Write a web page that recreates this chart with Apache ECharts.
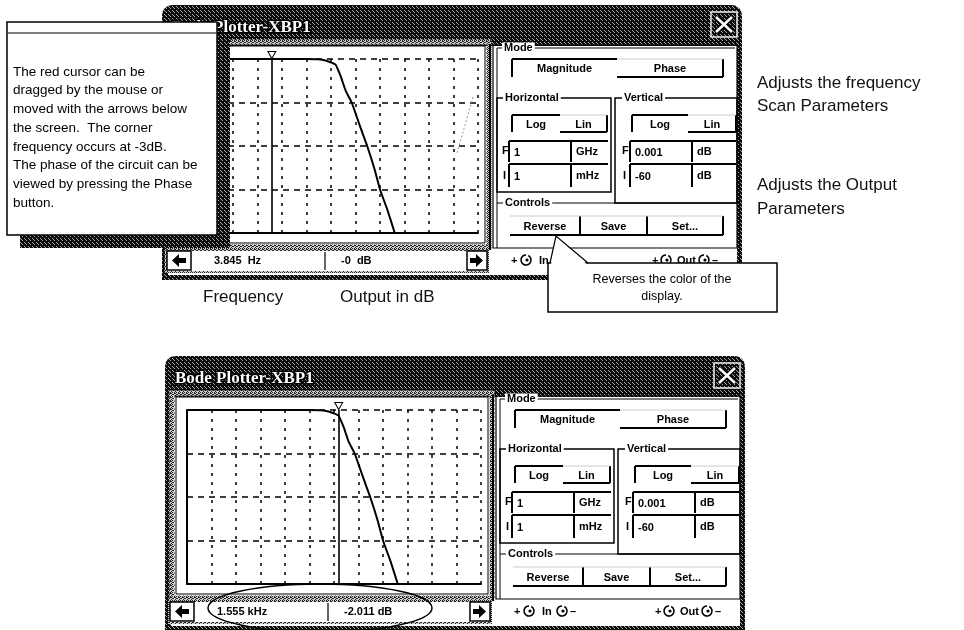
<!DOCTYPE html>
<html><head><meta charset="utf-8">
<script src="https://cdn.jsdelivr.net/npm/echarts@6/dist/echarts.min.js"></script>
<style>html,body{margin:0;padding:0;background:#fff}#c{width:964px;height:630px}</style>
</head><body><div id="c"></div>
<script>
// ---- data ----
const freqHz = [0.001, 1, 100, 300, 600, 1000, 1250, 1555, 2000, 2500, 4000, 7000, 15000, 30000, 60000, 100000, 200000, 400000];
const magDb  = [0, 0, 0, -0.1, -0.5, -1.2, -1.5, -2.0, -4.0, -6.0, -11.0, -15, -23, -30, -38, -45, -52, -60];
const xRangeHz = [0.001, 1e9];
const yRangeDb = [-60, 0];
const cursorTopHz = 3.845;
const cursorBottomHz = 1555;
const readoutTop = ['3.845  Hz', '-0  dB'];
const readoutBottom = ['1.555 kHz', '-2.011 dB'];
const hSettings = ['1', 'GHz', '1', 'mHz'];
const vSettings = ['0.001', 'dB', '-60', 'dB'];
const calloutLines = ['The red cursor can be', 'dragged by the mouse or', 'moved with the arrows below',
  'the screen.  The corner', 'frequency occurs at -3dB.', 'The phase of the circuit can be',
  'viewed by pressing the Phase', 'button.'];

// ---- textures ----
function pattern(dark, light, cells) {
  const c = document.createElement('canvas'); c.width = 4; c.height = 4;
  const g = c.getContext('2d'); g.fillStyle = light; g.fillRect(0, 0, 4, 4); g.fillStyle = dark;
  cells.forEach(p => g.fillRect(p[0], p[1], 1, 1));
  return { image: c, repeat: 'repeat' };
}
const darkCells = [[0,0],[1,0],[3,0],[0,1],[1,1],[2,1],[3,1],[1,2],[2,2],[3,2],[0,3],[2,3],[3,3]];
const DARK = pattern('#0c0c0c', '#a8a8a8', darkCells);
const MID = pattern('#222', '#d0d0d0', [[0,0],[2,1],[1,2],[3,3],[2,0],[0,2],[3,1]]);

const UI = 'bold 11px "Liberation Sans", Arial, sans-serif';
const G = [];
function rect(x, y, w, h, style, z, r) { G.push({ type: 'rect', z: z || 1, shape: { x, y, width: w, height: h, r: r || 0 }, style }); }
function line(x1, y1, x2, y2, stroke, lw, z, dash) { G.push({ type: 'line', z: z || 2, shape: { x1, y1, x2, y2 }, style: { stroke, lineWidth: lw || 1, lineDash: dash || null } }); }
function text(x, y, t, font, opt) { G.push(Object.assign({ type: 'text', z: 3, x, y, style: Object.assign({ text: t, font, fill: '#000', textVerticalAlign: 'middle', textAlign: 'left' }, opt && opt.style) }, opt && opt.el)); }
function knob(x, y, z) {
  G.push({ type: 'arc', z: z || 3, shape: { cx: x, cy: y, r: 5, startAngle: -Math.PI * 0.35, endAngle: Math.PI * 1.5 }, style: { stroke: '#000', lineWidth: 1.6, fill: null } });
  G.push({ type: 'circle', z: z || 3, shape: { cx: x + 1, cy: y, r: 1.6 }, style: { fill: '#000' } });
}
function button(x, y, w, h, label, pressed) {
  if (pressed) { line(x, y, x + w, y, '#000', 2); line(x, y, x, y + h, '#000', 2); }
  else { line(x, y + h, x + w, y + h, '#000', 2); line(x + w, y, x + w, y + h, '#000', 2); line(x, y, x + w, y, '#ccc', 1); }
  text(x + w / 2, y + h / 2 + 1, label, UI, { style: { textAlign: 'center' } });
}
function field(x, y, w, uw, h, val, unit) {
  line(x, y, x + w + uw, y, '#000', 2); line(x, y, x, y + h, '#000', 2);
  line(x + w, y, x + w, y + h, '#000', 2);
  text(x + 5, y + h / 2 + 1, val, UI); text(x + w + 5, y + h / 2, unit, UI);
}
function groupLabel(x, y, t) { text(x, y, t, UI, { style: { backgroundColor: '#fff', padding: [0, 2] } }); }

function windowChrome(dx, dy, title, read) {
  const X = v => v + dx, Y = v => v + dy;
  rect(X(162), Y(5), 580, 275, { fill: '#fff' }, -5, [10, 10, 0, 0]);
  rect(X(162), Y(5), 580, 41, { fill: DARK }, -4, [10, 10, 0, 0]);
  rect(X(162), Y(45), 6, 235, { fill: DARK }, -4);
  rect(X(737), Y(45), 5, 235, { fill: DARK }, -4);
  rect(X(162), Y(275), 580, 5, { fill: DARK }, -4);
  // close box
  rect(X(711), Y(12), 26, 25, { fill: DARK, stroke: '#eee', lineWidth: 1.5 }, 2);
  line(X(716), Y(17), X(732), Y(32), '#000', 5, 3); line(X(732), Y(17), X(716), Y(32), '#000', 5, 3);
  line(X(716), Y(17), X(732), Y(32), '#fff', 2.5, 4); line(X(732), Y(17), X(716), Y(32), '#fff', 2.5, 4);
  text(X(172), Y(28), title, 'bold 17px "Liberation Serif", serif', { style: { fill: '#fff', stroke: '#000', lineWidth: 3 } });
  // plot frame
  rect(X(169), Y(42), 320, 205, { fill: null, stroke: MID, lineWidth: 5 }, -3);
  rect(X(173), Y(46), 312, 197, { fill: null, stroke: '#000', lineWidth: 1 }, -3);
  // readout bar
  rect(X(166), Y(250), 322, 22, { fill: '#fff', stroke: MID, lineWidth: 2 }, -3);
  rect(X(167), Y(251), 24, 19, { fill: '#fff', stroke: '#000', lineWidth: 1.5 }, 1);
  G.push({ type: 'polygon', z: 2, shape: { points: [[X(172), Y(260.5)], [X(179), Y(254)], [X(179), Y(258)], [X(186), Y(258)], [X(186), Y(263)], [X(179), Y(263)], [X(179), Y(267)]] }, style: { fill: '#000' } });
  rect(X(467), Y(251), 20, 19, { fill: '#fff', stroke: '#000', lineWidth: 1.5 }, 1);
  G.push({ type: 'polygon', z: 2, shape: { points: [[X(483), Y(260.5)], [X(476), Y(254)], [X(476), Y(258)], [X(470), Y(258)], [X(470), Y(263)], [X(476), Y(263)], [X(476), Y(267)]] }, style: { fill: '#000' } });
  line(X(325), Y(252), X(325), Y(270), '#000', 1.2);
  text(X(214), Y(261), read[0], UI); text(X(341), Y(261), read[1], UI);
  // panel
  line(X(490), Y(44), X(490), Y(250), '#000', 2);
  rect(X(493), Y(45), 244, 203, { fill: null, stroke: '#000', lineWidth: 1.2 }, 1);
  line(X(497), Y(48), X(735), Y(48), '#000', 1); line(X(497), Y(48), X(497), Y(248), '#000', 1);
  groupLabel(X(502), Y(48), 'Mode');
  button(X(512), Y(59), 105, 18, 'Magnitude', true);
  button(X(617), Y(59), 106, 18, 'Phase', false);
  rect(X(497), Y(98), 114, 94, { fill: null, stroke: '#000', lineWidth: 1.5 }, 1);
  groupLabel(X(503), Y(98), 'Horizontal');
  rect(X(615), Y(98), 122, 105, { fill: null, stroke: '#000', lineWidth: 1.5 }, 1);
  groupLabel(X(622), Y(98), 'Vertical');
  button(X(512), Y(115), 48, 17, 'Log', true); button(X(560), Y(115), 47, 17, 'Lin', false);
  button(X(632), Y(115), 56, 17, 'Log', true); button(X(688), Y(115), 48, 17, 'Lin', false);
  text(X(502), Y(151), 'F', UI); text(X(503), Y(176), 'I', UI);
  text(X(622), Y(151), 'F', UI); text(X(623), Y(176), 'I', UI);
  field(X(509), Y(141), 62, 37, 21, hSettings[0], hSettings[1]);
  field(X(509), Y(164), 62, 37, 23, hSettings[2], hSettings[3]);
  field(X(630), Y(141), 62, 44, 21, vSettings[0], vSettings[1]);
  field(X(630), Y(164), 62, 44, 23, vSettings[2], vSettings[3]);
  line(X(497), Y(203), X(737), Y(203), '#000', 1);
  groupLabel(X(503), Y(203), 'Controls');
  button(X(510), Y(216), 70, 19, 'Reverse', false);
  button(X(580), Y(216), 67, 19, 'Save', false);
  button(X(647), Y(216), 76, 19, 'Set...', false);
  // lower icons
  text(X(511), Y(261), '+', UI); knob(X(526), Y(260));
  text(X(539), Y(261), 'In', UI); knob(X(559), Y(260)); text(X(567), Y(261), '–', UI);
  text(X(652), Y(261), '+', UI); knob(X(666), Y(260)); text(X(677), Y(261), 'Out', UI);
  knob(X(704), Y(260)); text(X(712), Y(261), '–', UI);
}

windowChrome(0, 0, 'Bode Plotter-XBP1', readoutTop);
windowChrome(3, 351, 'Bode Plotter-XBP1', readoutBottom);

// faint dotted line in top plot
line(473, 97, 457, 153, '#999', 1, 2, [2, 2]);

// callout 1
rect(20, 35, 210, 213, { fill: DARK }, 50);
rect(7, 22, 210, 213, { fill: '#fff', stroke: '#000', lineWidth: 1.5 }, 51);
line(8, 33, 216, 33, '#000', 1.2, 52);
calloutLines.forEach((t, i) => text(13, 72 + i * 18.7, t, '13.5px "Liberation Sans", Arial, sans-serif', { el: { z: 53 } }));

// callout 2
rect(548, 263, 229, 49, { fill: '#fff', stroke: '#000', lineWidth: 1.5 }, 51);
G.push({ type: 'polygon', z: 52, shape: { points: [[551, 264.5], [556, 236], [587, 264.5]] }, style: { fill: '#fff' } });
G.push({ type: 'polyline', z: 53, shape: { points: [[550, 263], [556, 236], [588, 263]] }, style: { stroke: '#000', lineWidth: 1.2, fill: null } });
text(662, 280, 'Reverses the color of the', '12.5px "Liberation Sans", Arial, sans-serif', { el: { z: 54 }, style: { textAlign: 'center' } });
text(662, 297, 'display.', '12.5px "Liberation Sans", Arial, sans-serif', { el: { z: 54 }, style: { textAlign: 'center' } });

// annotations
const AF = '17px "Liberation Sans", Arial, sans-serif';
text(757, 83, 'Adjusts the frequency', AF, { style: { fill: '#111' } });
text(757, 106, 'Scan Parameters', AF, { style: { fill: '#111' } });
text(757, 185, 'Adjusts the Output', AF, { style: { fill: '#111' } });
text(757, 209, 'Parameters', AF, { style: { fill: '#111' } });
text(203, 297, 'Frequency', AF, { style: { fill: '#111' } });
text(340, 297, 'Output in dB', AF, { style: { fill: '#111' } });

// ellipse around bottom readout
G.push({ type: 'ellipse', z: 60, shape: { cx: 320, cy: 608, rx: 112, ry: 24 }, style: { fill: null, stroke: '#000', lineWidth: 1.5 } });

// ---- chart ----
function xAx(gi) {
  return { type: 'log', logBase: 10, min: xRangeHz[0], max: xRangeHz[1], interval: 1, splitNumber: 12, gridIndex: gi,
    axisLabel: { show: false }, axisTick: { show: false },
    axisLine: { show: true, onZero: false, lineStyle: { color: '#000', width: 2 } },
    splitLine: { show: true, lineStyle: { color: '#000', type: [3, 6], width: 1.5 } } };
}
function yAx(gi) {
  return { type: 'value', min: yRangeDb[0], max: yRangeDb[1], interval: 15, gridIndex: gi,
    axisLabel: { show: false }, axisTick: { show: false },
    axisLine: { show: true, onZero: false, lineStyle: { color: '#000', width: 2 } },
    splitLine: { show: true, lineStyle: { color: '#000', type: [6, 5], width: 1.5 } } };
}
const curve = freqHz.map((f, i) => [f, magDb[i]]);
function series(gi, cursor) {
  return { type: 'line', xAxisIndex: gi, yAxisIndex: gi, data: curve, symbol: 'none', smooth: 0.15, clip: true, z: 3,
    lineStyle: { color: '#000', width: 2 }, animation: false,
    markLine: { silent: true, symbol: ['none', 'none'], label: { show: false }, animation: false,
      lineStyle: { color: '#000', type: 'solid', width: 1.6 }, data: [{ xAxis: cursor }] },
    markPoint: { silent: true, symbol: 'triangle', symbolRotate: 180, symbolSize: [8, 7], symbolOffset: [0, -4], animation: false,
      label: { show: false }, itemStyle: { color: '#fff', borderColor: '#000', borderWidth: 1 }, data: [{ coord: [cursor, 0] }] } };
}

const chart = echarts.init(document.getElementById('c'), null, { renderer: 'canvas' });
chart.setOption({
  animation: false,
  backgroundColor: '#fff',
  grid: [{ left: 184, top: 59, width: 294, height: 174 }, { left: 187, top: 410, width: 294, height: 174 }],
  xAxis: [xAx(0), xAx(1)],
  yAxis: [yAx(0), yAx(1)],
  series: [series(0, cursorTopHz), series(1, cursorBottomHz)],
  graphic: { elements: G }
});
</script></body></html>
